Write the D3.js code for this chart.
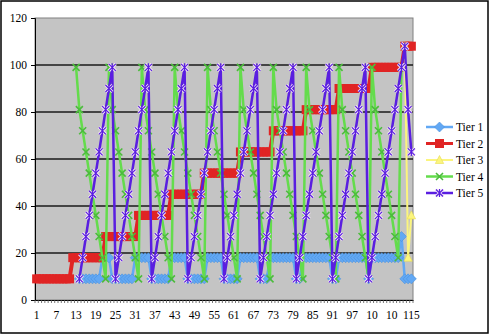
<!DOCTYPE html>
<html>
<head>
<meta charset="utf-8">
<script src="https://cdn.jsdelivr.net/npm/d3@7"></script>
<style>
  body { margin: 0; background: #fff; }
  svg { display: block; }
  text { font-family: "Liberation Serif", "Times New Roman", serif; }
</style>
</head>
<body>
<div id="chart"></div>
<script>
// categories 1..115, label shown every 6th (Excel cut 103 and 109 down to "10")
const categories = d3.range(1, 116);
const xTickCats = [1, 7, 13, 19, 25, 31, 37, 43, 49, 55, 61, 67, 73, 79, 85, 91, 97, 103, 109, 115];
const xTickLabels = ["1", "7", "13", "19", "25", "31", "37", "43", "49", "55", "61", "67", "73", "79", "85", "91", "97", "10", "10", "115"];
const yTicks = [0, 20, 40, 60, 80, 100, 120];
const seriesNames = ["Tier 1", "Tier 2", "Tier 3", "Tier 4", "Tier 5"];

const _ = null;
const tier1 = [
  _, _, _, _, _, _, _, _, _, _, _, _, _,
  9, 9, 9, 9, 9, 9, 9,
  18, 18, 18,
  9, 9, 9, 9, 9, 9, 9,
  18, 18, 18, 18, 18,
  9, 9, 9, 9, 9, 9,
  18, 18, 18, 18, 18,
  9, 9, 9, 9, 9, 9,
  18, 18, 18, 18, 18,
  9, 9, 9, 9, 9,
  18, 18, 18, 18, 18, 18,
  9, 9, 9,
  18, 18, 18, 18, 18, 18, 18, 18,
  9, 9,
  18, 18, 18, 18, 18, 18, 18, 18, 18,
  9, 9,
  18, 18, 18, 18, 18, 18, 18, 18, 18,
  9,
  18, 18, 18, 18, 18, 18, 18, 18, 18,
  27,
  9, 9, 9
];
const tier2 = [
  9, 9, 9, 9, 9, 9, 9, 9, 9, 9, 9,
  18, 18, 18, 18, 18, 18, 18, 18, 18, 18,
  27, 27, 27, 27, 27, 27, 27, 27, 27, 27,
  36, 36, 36, 36, 36, 36, 36, 36, 36, 36,
  45, 45, 45, 45, 45, 45, 45, 45, 45, 45,
  54, 54, 54, 54, 54, 54, 54, 54, 54, 54, 54,
  63, 63, 63, 63, 63, 63, 63, 63, 63, 63,
  72, 72, 72, 72, 72, 72, 72, 72, 72, 72,
  81, 81, 81, 81, 81, 81, 81, 81, 81, 81,
  90, 90, 90, 90, 90, 90, 90, 90, 90, 90,
  99, 99, 99, 99, 99, 99, 99, 99, 99, 99,
  108, 108, 108
];
const tier3 = [
  _, _, _, _, _, _, _, _, _, _, _, _, _, _, _, _, _, _, _, _,
  _, _, _, _, _, _, _, _, _, _, _, _, _, _, _, _, _, _, _, _,
  _, _, _, _, _, _, _, _, _, _, _, _, _, _, _, _, _, _, _, _,
  _, _, _, _, _, _, _, _, _, _, _, _, _, _, _, _, _, _, _, _,
  _, _, _, _, _, _, _, _, _, _, _, _, _, _, _, _, _, _, _, _,
  _, _, _, _, _, _, _, _, _, _, _, _,
  108, 18, 36
];
const tier4 = [
  _, _, _, _, _, _, _, _, _, _, _, _,
  99, 81, 72, 63, 54, 45, 36, 27, 18, 9,
  99, 81, 72, 63, 54, 45, 36, 27, 18, 9,
  99, 81, 72, 63, 54, 45, 36, 27, 18, 9,
  99, 81, 72, 63, 54, 45, 36, 27, 18, 9,
  99, 81, 72, 63, 54, 45, 36, 27, 18, 9,
  99, 81, 72, 63, 54, 45, 36, 27, 18, 9,
  99, 81, 72, 63, 54, 45, 36, 27, 18, 9,
  99, 81, 72, 63, 54, 45, 36, 27, 18, 9,
  99, 81, 72, 63, 54, 45, 36, 27, 18, 9,
  99, 81, 72, 63, 54, 45, 36, 27, 18,
  99,
  _, _, _
];
const tier5 = [
  _, _, _, _, _, _, _, _, _, _, _, _, _,
  9, 18, 27, 36, 45, 54, 63, 72, 81, 90, 99,
  9, 18, 27, 36, 45, 54, 63, 72, 81, 90, 99,
  9, 18, 27, 36, 45, 54, 63, 72, 81, 90, 99,
  9, 18, 27, 36, 45, 54, 63, 72, 81, 90, 99,
  9, 18, 27, 36, 45, 54, 63, 72, 81, 90, 99,
  9, 18, 27, 36, 45, 54, 63, 72, 81, 90, 99,
  9, 18, 27, 36, 45, 54, 63, 72, 81, 90, 99,
  9, 18, 27, 36, 45, 54, 63, 72, 81, 90, 99,
  9, 18, 27, 36, 45, 54, 63, 72, 81, 90, 99,
  108, 81, 63
];

const width = 490, height = 336;
const plot = {left: 35, right: 413, top: 18, bottom: 300};

const svg = d3.select("#chart").append("svg")
  .attr("width", width)
  .attr("height", height);

// chart area border
svg.append("rect")
  .attr("x", 1).attr("y", 1)
  .attr("width", 487).attr("height", 332)
  .attr("fill", "#fff")
  .attr("stroke", "#000")
  .attr("stroke-width", 1.5);

const x = d3.scaleBand().domain(categories).range([plot.left, plot.right]).padding(0);
const cx = d => x(d) + x.bandwidth() / 2;
const y = d3.scaleLinear().domain([0, 120]).range([plot.bottom, plot.top]);

// plot area
svg.append("rect")
  .attr("x", plot.left).attr("y", plot.top)
  .attr("width", plot.right - plot.left).attr("height", plot.bottom - plot.top)
  .attr("fill", "#c4c4c4")
  .attr("stroke", "#808080")
  .attr("stroke-width", 1);

// gridlines
svg.append("g")
  .selectAll("line")
  .data(yTicks.filter(v => v > 0 && v < 120))
  .join("line")
    .attr("x1", plot.left).attr("x2", plot.right)
    .attr("y1", d => y(d)).attr("y2", d => y(d))
    .attr("stroke", "#1a1a1a")
    .attr("stroke-width", 1.3);

// y axis
const yAxis = svg.append("g")
  .attr("transform", `translate(${plot.left},0)`)
  .call(d3.axisLeft(y).tickValues(yTicks).tickSize(4).tickPadding(4));
yAxis.select(".domain").attr("stroke", "#000");
yAxis.selectAll(".tick line").attr("stroke", "#000");
yAxis.selectAll("text").attr("font-size", 11.5).attr("fill", "#000")
  .style("font-family", "'Liberation Serif', serif");

// x axis: minor ticks at every category boundary, labels every 6th
const xAxis = svg.append("g")
  .attr("transform", `translate(0,${plot.bottom})`)
  .call(d3.axisBottom(x).tickValues(xTickCats).tickSize(0).tickPadding(11)
    .tickFormat((d, i) => xTickLabels[i]));
xAxis.select(".domain").attr("stroke", "#000");
xAxis.selectAll("text").attr("font-size", 11.5).attr("fill", "#000")
  .style("font-family", "'Liberation Serif', serif");
svg.append("g")
  .selectAll("line")
  .data(categories.concat([null]))
  .join("line")
    .attr("x1", d => d === null ? plot.right : x(d))
    .attr("x2", d => d === null ? plot.right : x(d))
    .attr("y1", plot.bottom).attr("y2", plot.bottom + 3)
    .attr("stroke", "#555")
    .attr("stroke-width", 0.8);

// series
const series = [
  {name: seriesNames[0], values: tier1, color: "#62a8f4", width: 2.5, marker: "diamond"},
  {name: seriesNames[1], values: tier2, color: "#e02424", width: 4, marker: "square"},
  {name: seriesNames[2], values: tier3, color: "#fbf57e", width: 2, marker: "triangle"},
  {name: seriesNames[3], values: tier4, color: "#64dc4c", width: 2.5, marker: "x"},
  {name: seriesNames[4], values: tier5, color: "#5a1ee0", width: 2.5, marker: "star"}
];

const line = d3.line()
  .defined(d => d.v !== null)
  .x(d => cx(d.c))
  .y(d => y(d.v));

function drawMarker(g, type, color) {
  if (type === "diamond") {
    g.append("path").attr("d", "M0,-5L5,0L0,5L-5,0Z")
      .attr("fill", color).attr("stroke", "#4a90dc").attr("stroke-width", 0.6);
  } else if (type === "square") {
    g.append("rect").attr("x", -4.5).attr("y", -4.5).attr("width", 9).attr("height", 9)
      .attr("fill", color);
  } else if (type === "triangle") {
    g.append("path").attr("d", "M0,-4.5L4.2,3.5L-4.2,3.5Z")
      .attr("fill", color).attr("stroke", "#e8dc50").attr("stroke-width", 0.6);
  } else if (type === "x") {
    g.append("path").attr("d", "M-3.5,-3.5L3.5,3.5M-3.5,3.5L3.5,-3.5")
      .attr("fill", "none").attr("stroke", "#4cbc3c").attr("stroke-width", 1.6);
  } else if (type === "star") {
    g.append("path").attr("d", "M-3.5,-3.5L3.5,3.5M-3.5,3.5L3.5,-3.5")
      .attr("fill", "none").attr("stroke", "#f4e4f4").attr("stroke-width", 3);
    g.append("path").attr("d", "M-3.5,-3.5L3.5,3.5M-3.5,3.5L3.5,-3.5M0,-4L0,4")
      .attr("fill", "none").attr("stroke", color).attr("stroke-width", 1.2);
  }
}

series.forEach(s => {
  const pts = categories.map((c, i) => ({c: c, v: s.values[i]}));
  const g = svg.append("g");
  g.append("path")
    .datum(pts)
    .attr("d", line)
    .attr("fill", "none")
    .attr("stroke", s.color)
    .attr("stroke-width", s.width)
    .attr("stroke-linejoin", "round");
  g.selectAll("g.m")
    .data(pts.filter(d => d.v !== null))
    .join("g")
      .attr("class", "m")
      .attr("transform", d => `translate(${cx(d.c)},${y(d.v)})`)
      .each(function() { drawMarker(d3.select(this), s.marker, s.color); });
});

// legend
const legend = svg.append("g");
series.forEach((s, i) => {
  const ly = 127 + i * 16.5;
  legend.append("line")
    .attr("x1", 426).attr("x2", 453)
    .attr("y1", ly).attr("y2", ly)
    .attr("stroke", s.color).attr("stroke-width", Math.min(s.width, 3));
  const m = legend.append("g").attr("transform", `translate(439.5,${ly})`);
  drawMarker(m, s.marker, s.color);
  legend.append("text")
    .attr("x", 456).attr("y", ly + 4)
    .attr("font-size", 11.5)
    .attr("fill", "#000")
    .text(s.name);
});
</script>
</body>
</html>
